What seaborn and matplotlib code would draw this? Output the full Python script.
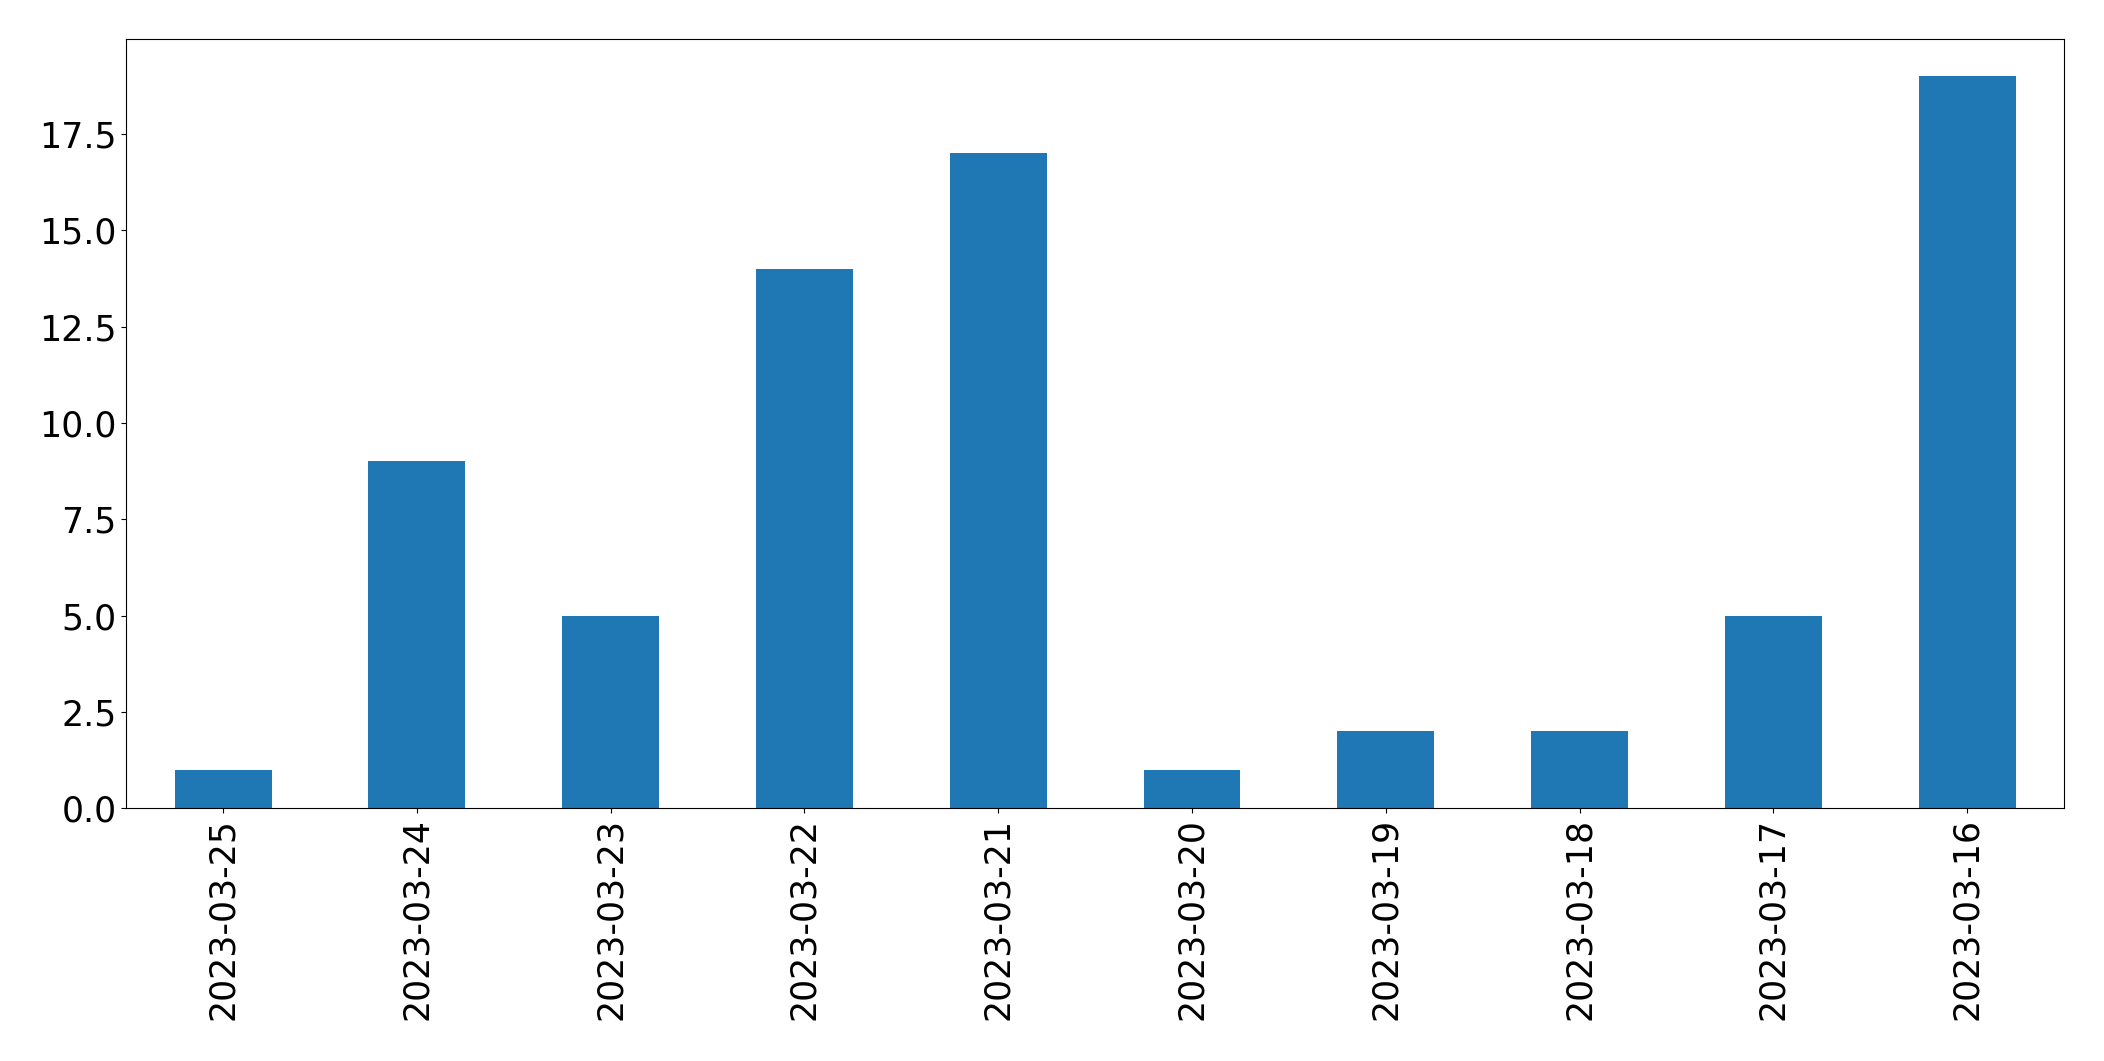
import pandas as pd
import matplotlib.pyplot as plt
import seaborn as sns

# données
dates = ["2023-03-25", "2023-03-24", "2023-03-23", "2023-03-22", "2023-03-21",
         "2023-03-20", "2023-03-19", "2023-03-18", "2023-03-17", "2023-03-16"]
counts = [1, 9, 5, 14, 17, 1, 2, 2, 5, 19]

df = pd.DataFrame({"date": dates, "count": counts})

plt.figure(figsize=(21.04, 10.61), dpi=100)
ax = sns.barplot(x="date", y="count", data=df, color="#1f77b4", width=0.5,
                 saturation=1, linewidth=0)
ax.set_xlim(-0.5, len(dates) - 0.5)
ax.set_xlabel("")
ax.set_ylabel("")
plt.xticks(rotation=90, fontsize=25)
plt.yticks(fontsize=25)
for s in ax.spines.values():
    s.set_edgecolor("black")
plt.subplots_adjust(left=0.06, right=0.981, top=0.963, bottom=0.238)
plt.savefig("out.png", dpi=100)
